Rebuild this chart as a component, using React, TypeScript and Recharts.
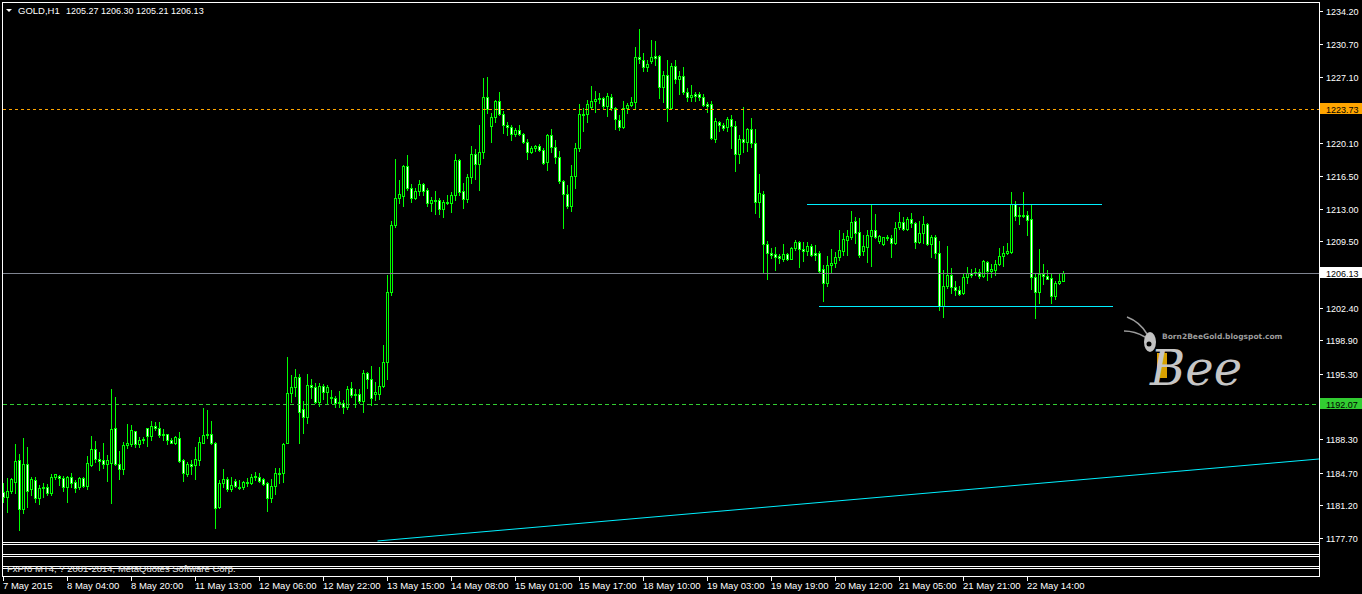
import React from 'react';
import { ComposedChart, Bar, XAxis, YAxis, ReferenceLine } from 'recharts';

// ---- GOLD H1 candles (7 May 2015 12:00 .. 22 May 2015) ----
const openPrices = [
  1182.6, 1182.1, 1182.7, 1183.7, 1186.1, 1180.8, 1185.6, 1182.9, 1183.9, 1182.0,
  1183.1, 1183.2, 1182.5, 1184.2, 1184.4, 1184.1, 1183.2, 1184.2, 1183.7, 1183.2,
  1184.1, 1183.3, 1185.5, 1187.2, 1186.2, 1186.1, 1185.6, 1185.7, 1189.5, 1185.6,
  1185.1, 1187.7, 1187.8, 1189.2, 1187.8, 1188.2, 1189.5, 1188.6, 1189.7, 1189.5,
  1188.7, 1188.8, 1188.2, 1187.9, 1188.4, 1186.1, 1184.6, 1185.6, 1185.5, 1186.1,
  1187.9, 1188.7, 1188.8, 1187.9, 1181.0, 1183.6, 1184.0, 1183.0, 1183.8, 1183.2,
  1183.2, 1183.7, 1183.6, 1184.2, 1184.2, 1184.0, 1183.6, 1182.0, 1183.3, 1184.7,
  1184.7, 1187.9, 1193.2, 1193.9, 1195.0, 1191.5, 1190.7, 1194.1, 1193.9, 1192.3,
  1194.0, 1193.4, 1192.8, 1192.7, 1192.3, 1192.2, 1191.7, 1193.8, 1193.1, 1193.1,
  1192.4, 1195.4, 1194.7, 1193.1, 1193.1, 1194.0, 1196.6, 1204.1, 1211.3, 1214.2,
  1214.4, 1217.6, 1215.2, 1214.2, 1214.9, 1215.7, 1215.0, 1213.6, 1213.9, 1213.9,
  1213.0, 1213.7, 1213.6, 1214.5, 1218.2, 1214.9, 1214.0, 1216.4, 1218.9, 1217.8,
  1219.1, 1225.0, 1221.9, 1222.8, 1224.6, 1223.2, 1222.0, 1221.8, 1221.0, 1221.4,
  1221.0, 1220.2, 1219.1, 1219.5, 1219.7, 1219.3, 1218.0, 1220.9, 1219.6, 1218.6,
  1216.0, 1214.6, 1213.3, 1216.5, 1219.5, 1223.2, 1223.2, 1223.9, 1224.6, 1224.8,
  1224.9, 1224.0, 1225.0, 1223.8, 1222.5, 1221.8, 1223.8, 1224.1, 1224.4, 1229.3,
  1229.0, 1228.2, 1228.8, 1229.4, 1229.4, 1226.0, 1227.3, 1223.8, 1228.3, 1226.9,
  1227.2, 1225.5, 1225.0, 1225.3, 1225.3, 1225.0, 1224.2, 1224.2, 1220.5, 1222.3,
  1222.0, 1221.8, 1222.6, 1221.9, 1218.9, 1220.5, 1220.2, 1221.5, 1220.0, 1213.7,
  1214.6, 1209.2, 1208.3, 1208.1, 1207.9, 1207.6, 1208.1, 1207.6, 1208.8, 1209.4,
  1208.7, 1208.5, 1209.0, 1208.3, 1208.3, 1206.5, 1205.0, 1207.0, 1207.2, 1207.8,
  1208.5, 1209.6, 1210.0, 1211.7, 1210.5, 1208.5, 1208.9, 1210.1, 1210.7, 1209.5,
  1209.2, 1210.0, 1209.9, 1209.3, 1211.0, 1211.6, 1210.8, 1211.9, 1211.5, 1209.4,
  1210.4, 1211.4, 1209.2, 1210.0, 1208.3, 1202.6, 1204.7, 1205.9, 1204.6, 1204.3,
  1204.0, 1205.7, 1206.1, 1206.2, 1206.2, 1205.8, 1207.3, 1206.3, 1206.4, 1207.1,
  1207.9, 1208.3, 1208.4, 1213.5, 1212.3, 1212.3, 1212.3, 1211.9, 1205.7, 1204.1,
  1206.0, 1205.8, 1205.6, 1203.6, 1205.0, 1205.27,
];

const highPrices = [
  1183.6, 1184.1, 1184.1, 1187.8, 1186.7, 1188.4, 1187.5, 1184.2, 1184.2, 1183.4,
  1183.6, 1183.5, 1184.6, 1184.6, 1184.5, 1184.4, 1184.4, 1184.7, 1183.9, 1184.2,
  1184.2, 1186.5, 1188.6, 1188.1, 1186.9, 1187.9, 1186.6, 1193.7, 1192.8, 1187.0,
  1188.0, 1189.9, 1189.8, 1189.2, 1188.5, 1188.5, 1189.5, 1190.2, 1190.1, 1190.1,
  1189.4, 1188.9, 1188.4, 1188.6, 1189.1, 1186.2, 1185.8, 1186.1, 1187.5, 1188.5,
  1191.6, 1191.4, 1190.2, 1188.0, 1183.9, 1185.1, 1184.2, 1184.2, 1184.0, 1183.9,
  1183.8, 1184.1, 1184.6, 1184.8, 1184.7, 1184.1, 1183.7, 1184.0, 1185.2, 1185.2,
  1187.9, 1197.1, 1195.2, 1195.8, 1195.3, 1192.4, 1195.3, 1194.7, 1194.3, 1194.3,
  1194.2, 1194.1, 1193.6, 1192.9, 1193.5, 1192.5, 1194.0, 1194.4, 1193.7, 1193.7,
  1195.7, 1195.5, 1196.1, 1194.4, 1196.0, 1198.4, 1205.9, 1211.7, 1218.3, 1216.1,
  1217.7, 1218.8, 1215.6, 1215.2, 1216.1, 1215.8, 1215.2, 1214.3, 1214.9, 1214.2,
  1213.9, 1214.5, 1214.8, 1218.9, 1218.3, 1215.8, 1216.7, 1219.7, 1219.4, 1222.0,
  1227.0, 1227.1, 1223.3, 1224.7, 1225.5, 1223.5, 1222.3, 1222.0, 1221.7, 1222.0,
  1221.1, 1220.5, 1219.7, 1219.8, 1219.9, 1219.5, 1221.0, 1221.5, 1220.4, 1219.2,
  1216.1, 1215.5, 1217.7, 1220.0, 1224.2, 1223.8, 1224.7, 1226.2, 1225.6, 1225.4,
  1225.0, 1225.4, 1225.3, 1223.9, 1223.1, 1224.5, 1224.3, 1225.0, 1230.3, 1232.3,
  1229.7, 1229.0, 1231.1, 1231.0, 1229.5, 1227.8, 1229.0, 1228.6, 1229.0, 1227.8,
  1228.2, 1225.9, 1226.3, 1225.5, 1225.5, 1225.3, 1224.4, 1224.5, 1222.7, 1222.4,
  1222.2, 1222.8, 1223.1, 1222.4, 1220.9, 1223.9, 1221.7, 1222.7, 1221.5, 1216.7,
  1214.9, 1209.5, 1208.8, 1208.9, 1208.1, 1209.2, 1208.3, 1208.9, 1209.6, 1209.5,
  1209.4, 1209.4, 1209.2, 1209.1, 1208.5, 1207.0, 1207.9, 1208.7, 1208.4, 1210.7,
  1210.4, 1210.7, 1212.8, 1212.1, 1212.0, 1210.2, 1210.7, 1213.4, 1212.4, 1210.2,
  1210.0, 1210.2, 1210.2, 1211.6, 1212.6, 1212.1, 1212.1, 1212.5, 1211.6, 1211.7,
  1212.2, 1211.5, 1210.2, 1210.2, 1209.5, 1206.4, 1209.0, 1206.6, 1205.2, 1204.7,
  1206.0, 1206.8, 1206.5, 1206.6, 1206.5, 1207.5, 1207.4, 1207.1, 1207.5, 1208.8,
  1209.0, 1209.3, 1214.8, 1213.8, 1213.2, 1214.8, 1212.8, 1213.4, 1206.0, 1208.7,
  1207.1, 1206.4, 1206.1, 1205.3, 1206.0, 1206.30,
];

const lowPrices = [
  1181.6, 1180.5, 1182.5, 1182.5, 1178.6, 1180.4, 1181.0, 1182.3, 1181.6, 1181.3,
  1182.1, 1182.3, 1182.3, 1184.0, 1183.4, 1182.7, 1181.6, 1183.2, 1182.6, 1182.9,
  1183.2, 1182.9, 1185.4, 1185.8, 1185.0, 1185.2, 1183.8, 1181.4, 1185.5, 1184.0,
  1184.6, 1187.3, 1187.6, 1187.5, 1187.5, 1187.9, 1187.6, 1188.2, 1189.3, 1188.5,
  1188.2, 1187.8, 1187.9, 1187.8, 1185.8, 1183.8, 1184.4, 1184.6, 1184.0, 1185.5,
  1187.9, 1188.4, 1187.8, 1178.8, 1180.9, 1183.2, 1182.7, 1182.7, 1183.2, 1183.0,
  1183.0, 1183.3, 1183.5, 1183.9, 1183.7, 1183.4, 1180.6, 1181.6, 1182.4, 1183.6,
  1183.7, 1187.9, 1192.3, 1192.9, 1187.9, 1189.0, 1190.0, 1192.7, 1192.2, 1191.9,
  1192.6, 1192.2, 1192.2, 1191.7, 1191.7, 1191.1, 1191.5, 1192.8, 1191.7, 1192.2,
  1191.2, 1193.8, 1192.0, 1192.5, 1192.6, 1193.9, 1194.8, 1203.8, 1211.0, 1213.6,
  1213.3, 1215.0, 1213.7, 1214.0, 1214.5, 1214.5, 1213.3, 1212.8, 1212.4, 1212.4,
  1212.1, 1213.5, 1212.6, 1213.9, 1214.5, 1213.1, 1213.7, 1215.8, 1216.2, 1215.0,
  1218.4, 1223.3, 1220.2, 1222.3, 1223.0, 1221.1, 1220.9, 1220.4, 1220.8, 1220.9,
  1220.0, 1218.3, 1219.0, 1219.2, 1219.2, 1217.8, 1217.2, 1219.1, 1217.9, 1215.8,
  1210.9, 1213.1, 1212.8, 1215.2, 1219.2, 1221.3, 1222.3, 1223.7, 1223.4, 1224.3,
  1223.7, 1222.9, 1223.6, 1221.5, 1221.4, 1221.7, 1223.3, 1224.0, 1223.8, 1228.6,
  1227.8, 1227.8, 1228.6, 1228.4, 1224.9, 1224.4, 1222.4, 1223.8, 1226.5, 1225.3,
  1225.3, 1224.6, 1224.6, 1224.6, 1224.7, 1224.0, 1223.4, 1220.5, 1220.2, 1221.3,
  1221.4, 1221.3, 1219.5, 1217.0, 1217.9, 1219.1, 1219.2, 1219.6, 1212.5, 1212.1,
  1206.2, 1205.5, 1207.7, 1206.4, 1207.2, 1207.4, 1207.5, 1207.6, 1208.6, 1206.8,
  1207.4, 1208.0, 1207.9, 1207.5, 1206.2, 1203.1, 1204.7, 1206.1, 1206.8, 1207.5,
  1208.0, 1208.0, 1209.8, 1209.3, 1207.8, 1208.0, 1207.3, 1206.9, 1209.9, 1209.3,
  1209.1, 1209.6, 1207.8, 1209.2, 1210.8, 1210.7, 1210.7, 1211.0, 1208.8, 1209.3,
  1209.3, 1209.1, 1207.8, 1207.7, 1202.1, 1201.4, 1204.5, 1204.0, 1203.8, 1203.8,
  1203.9, 1205.0, 1205.7, 1205.9, 1205.6, 1205.7, 1205.4, 1205.7, 1205.9, 1207.0,
  1206.9, 1208.1, 1208.3, 1211.8, 1211.4, 1212.1, 1210.2, 1204.4, 1201.3, 1202.9,
  1204.9, 1205.5, 1202.9, 1203.3, 1204.9, 1205.21,
];

const closePrices = [
  1182.1, 1182.7, 1184.0, 1186.0, 1180.8, 1185.6, 1182.7, 1184.0, 1182.0, 1183.1,
  1183.2, 1182.5, 1184.2, 1184.6, 1184.1, 1183.2, 1184.2, 1183.6, 1183.1, 1184.1,
  1183.3, 1185.7, 1187.2, 1186.2, 1186.0, 1185.6, 1186.1, 1189.4, 1185.6, 1185.1,
  1187.7, 1187.9, 1189.3, 1187.8, 1188.2, 1188.3, 1188.6, 1189.7, 1189.5, 1188.7,
  1188.8, 1188.2, 1187.9, 1188.5, 1186.0, 1184.7, 1185.6, 1185.4, 1186.2, 1188.0,
  1188.7, 1188.8, 1187.9, 1180.9, 1183.6, 1184.0, 1183.0, 1183.4, 1183.3, 1183.1,
  1183.7, 1183.6, 1184.2, 1184.4, 1183.8, 1183.5, 1182.0, 1183.3, 1184.7, 1184.6,
  1187.8, 1193.2, 1193.9, 1195.0, 1191.2, 1190.7, 1194.1, 1193.9, 1192.3, 1194.0,
  1193.4, 1193.9, 1192.7, 1192.2, 1192.2, 1191.7, 1193.7, 1193.0, 1193.0, 1192.4,
  1195.4, 1194.7, 1192.7, 1193.4, 1194.0, 1196.6, 1204.1, 1211.3, 1214.2, 1214.6,
  1217.6, 1215.2, 1214.2, 1214.9, 1215.7, 1214.9, 1213.6, 1213.9, 1213.8, 1213.0,
  1213.7, 1213.6, 1214.5, 1218.2, 1214.8, 1214.0, 1216.4, 1218.9, 1217.8, 1219.1,
  1225.0, 1223.7, 1222.8, 1224.6, 1223.2, 1222.0, 1221.8, 1221.0, 1221.4, 1221.0,
  1220.2, 1219.1, 1219.5, 1219.7, 1219.3, 1217.9, 1220.9, 1219.6, 1218.6, 1216.0,
  1214.6, 1213.3, 1216.5, 1219.5, 1223.2, 1223.1, 1224.2, 1224.6, 1224.8, 1224.9,
  1224.0, 1225.1, 1223.8, 1222.6, 1221.8, 1223.8, 1224.1, 1224.4, 1229.3, 1229.1,
  1228.2, 1228.5, 1229.3, 1229.2, 1226.0, 1227.3, 1223.8, 1228.3, 1226.9, 1227.2,
  1225.5, 1225.0, 1225.2, 1225.1, 1225.0, 1224.1, 1224.0, 1220.6, 1222.4, 1222.0,
  1221.7, 1222.6, 1221.9, 1218.9, 1220.5, 1220.2, 1221.5, 1220.0, 1213.7, 1214.7,
  1209.2, 1208.3, 1208.0, 1207.8, 1207.7, 1208.1, 1207.6, 1208.8, 1209.4, 1208.7,
  1208.5, 1209.0, 1208.0, 1208.0, 1206.3, 1205.0, 1207.0, 1207.2, 1207.8, 1208.6,
  1209.8, 1210.1, 1211.6, 1210.4, 1208.0, 1209.0, 1210.2, 1210.7, 1210.0, 1210.1,
  1210.0, 1209.9, 1209.3, 1210.9, 1211.6, 1210.8, 1211.9, 1211.5, 1209.4, 1210.4,
  1211.4, 1209.2, 1210.0, 1208.3, 1202.6, 1204.7, 1205.9, 1204.6, 1204.3, 1203.9,
  1205.7, 1206.1, 1205.9, 1206.1, 1205.8, 1207.4, 1206.3, 1206.5, 1207.1, 1207.9,
  1208.3, 1208.5, 1213.5, 1212.2, 1212.2, 1212.2, 1211.8, 1205.7, 1204.1, 1206.0,
  1205.8, 1205.5, 1203.6, 1205.0, 1205.3, 1206.13,
];

// time axis: bar index of each label and its text
const timeTickBars = [0, 16, 32, 48, 64, 80, 96, 112, 128, 144, 160, 176, 192, 208, 224, 240, 256];
const timeTickLabels = [
  '7 May 2015', '8 May 04:00', '8 May 20:00', '11 May 13:00', '12 May 06:00', '12 May 22:00',
  '13 May 15:00', '14 May 08:00', '15 May 01:00', '15 May 17:00', '18 May 10:00', '19 May 03:00',
  '19 May 19:00', '20 May 12:00', '21 May 05:00', '21 May 21:00', '22 May 14:00',
];

// price axis labels
const priceTicks = [
  1234.2, 1230.7, 1227.1, 1220.1, 1216.5, 1213.0, 1209.5,
  1202.4, 1198.9, 1195.3, 1188.3, 1184.7, 1181.2, 1177.7,
];

// horizontal levels with their price tags
const askLevel = 1223.73;
const bidLevel = 1206.13;
const supportLevel = 1192.07;
const levelTags = [askLevel, bidLevel, supportLevel];
const levelTagColors = ['#FFA500', '#FFFFFF', '#32CD32'];
const levelLineColors = ['#FFA500', '#7F8490', '#32CD32'];
const levelLineDashes = ['3 3', undefined, '4 3'];

// drawn objects (bar index, price) anchors
const channelTop = [{ bar: 200.9, price: 1213.47 }, { bar: 274.6, price: 1213.47 }];
const channelBottom = [{ bar: 203.9, price: 1202.54 }, { bar: 277.4, price: 1202.54 }];
const trendLine = [{ bar: 93.5, price: 1177.38 }, { bar: 328.875, price: 1186.17 }];

const header = { symbol: 'GOLD,H1', ohlc: '1205.27 1206.30 1205.21 1206.13' };

const candles = openPrices.map((o, i) => ({
  i,
  o,
  h: highPrices[i],
  l: lowPrices[i],
  c: closePrices[i],
  range: [lowPrices[i], highPrices[i]],
}));

// ---- layout / style ----
const W = 1362;
const H = 594;
const PLOT_LEFT = 3;
const PLOT_RIGHT = 1319;
const X_DOMAIN = [-0.125, 328.875];
const Y_DOMAIN = [1177.271, 1235.058];
const LIME = '#00FF00';
const CYAN = '#00F0FF';
const FONT = "'Liberation Sans', Arial, sans-serif";

function CandleShape(props: any) {
  const { x, y, width, height, payload } = props;
  if (x == null || y == null || !payload) return null;
  const { o, h, l, c } = payload;
  const span = h - l;
  const yOf = (p: number) => (span > 0 ? y + ((h - p) / span) * height : y);
  const cx = Math.floor(x + width / 2);
  const yH = Math.round(yOf(h));
  const yL = Math.round(yOf(l));
  const top = Math.round(yOf(Math.max(o, c)));
  const bot = Math.round(yOf(Math.min(o, c)));
  const bull = c > o;
  const bear = c < o;
  let body;
  if (bot - top <= 1 || (!bull && !bear)) {
    body = <rect x={cx - 1} y={top} width={3} height={Math.max(1, bot - top + 1)} fill={LIME} />;
  } else {
    body = (
      <g>
        <rect x={cx - 1} y={top} width={3} height={bot - top + 1} fill={LIME} />
        <rect x={cx} y={top + 1} width={1} height={bot - top - 1} fill={bull ? '#000000' : '#FFFFFF'} />
      </g>
    );
  }
  return (
    <g shapeRendering="crispEdges">
      <rect x={cx} y={yH} width={1} height={Math.max(1, yL - yH + 1)} fill={LIME} />
      {body}
    </g>
  );
}

function PriceTick(props: any) {
  const { y, payload } = props;
  if (y == null || !payload) return null;
  const v = Number(payload.value);
  const ry = Math.round(y);
  const k = levelTags.findIndex((t) => Math.abs(t - v) < 1e-6);
  if (k >= 0) {
    return (
      <g>
        <line
          x1={PLOT_LEFT}
          x2={PLOT_RIGHT}
          y1={ry + 0.5}
          y2={ry + 0.5}
          stroke={levelLineColors[k]}
          strokeWidth={1}
          strokeDasharray={levelLineDashes[k]}
          shapeRendering="crispEdges"
        />
        <rect x={1320} y={ry - 6} width={42} height={11} fill={levelTagColors[k]} shapeRendering="crispEdges" />
        <text x={1326} y={ry + 3.5} fontSize={9} fontFamily={FONT} fill="#000000">
          {v.toFixed(2)}
        </text>
      </g>
    );
  }
  return (
    <g>
      <rect x={1320} y={ry} width={3} height={1} fill="#FFFFFF" shapeRendering="crispEdges" />
      <text x={1326} y={ry + 3.5} fontSize={9} fontFamily={FONT} fill="#FFFFFF">
        {v.toFixed(2)}
      </text>
    </g>
  );
}

function TimeTick(props: any) {
  const { x, payload } = props;
  if (x == null || !payload) return null;
  const k = timeTickBars.indexOf(Number(payload.value));
  if (k < 0) return null;
  const px = Math.floor(x);
  return (
    <g>
      <rect x={px} y={577} width={1} height={4} fill="#FFFFFF" shapeRendering="crispEdges" />
      <text x={px} y={589} fontSize={9.5} fontFamily={FONT} fill="#FFFFFF">
        {timeTickLabels[k]}
      </text>
    </g>
  );
}

function Frame() {
  const hLines = [2, 542, 544, 554, 556, 566, 568, 576];
  return (
    <svg width={W} height={H} style={{ position: 'absolute', left: 0, top: 0, pointerEvents: 'none' }}>
      <g shapeRendering="crispEdges" fill="#FFFFFF">
        {hLines.map((yy) => (
          <rect key={yy} x={2} y={yy} width={1318} height={1} />
        ))}
        <rect x={2} y={2} width={1} height={575} />
        <rect x={1319} y={2} width={1} height={575} />
      </g>
      {/* header */}
      <polygon points="6,9 12,9 9,12" fill="#FFFFFF" />
      <text x={18} y={14} fontSize={9.5} fontFamily={FONT} fill="#FFFFFF">{header.symbol}</text>
      <text x={66} y={14} fontSize={9} fontFamily={FONT} fill="#FFFFFF">{header.ohlc}</text>
      {/* copyright */}
      <text x={7} y={572} fontSize={9.5} fontFamily={FONT} fill="#E8E8E8">
        FxPro MT4, ? 2001-2014, MetaQuotes Software Corp.
      </text>
      {/* logo */}
      <g>
        <path d="M1147 334 Q1140 322 1127 317" stroke="#9c9c9c" strokeWidth={1.5} fill="none" />
        <path d="M1145 337 Q1135 331 1124 331" stroke="#9c9c9c" strokeWidth={1.5} fill="none" />
        <ellipse cx={1150} cy={342} rx={6} ry={10} fill="#c2c2c2" />
        <circle cx={1149} cy={344} r={2.5} fill="#000000" />
        <rect x={1157} y={353} width={10} height={25} fill="#d9a000" />
        <text x={1150} y={385} fontSize={48} fontStyle="italic" fontFamily="'DejaVu Serif', serif" fill="#c6c6c6">
          Bee
        </text>
        <text x={1162} y={339} fontSize={7.5} fontWeight="bold" fontFamily="'DejaVu Sans', sans-serif" fill="#9c9c9c">
          Born2BeeGold.blogspot.com
        </text>
      </g>
    </svg>
  );
}

export default function App() {
  return (
    <div style={{ position: 'absolute', left: 0, top: 0, width: W, height: H, background: '#000000', overflow: 'hidden' }}>
      <ComposedChart width={W} height={H} data={candles} margin={{ top: 3, right: 0, bottom: 0, left: 3 }}>
        <XAxis
          type="number"
          dataKey="i"
          domain={X_DOMAIN}
          allowDataOverflow
          ticks={timeTickBars}
          interval={0}
          tick={<TimeTick />}
          axisLine={false}
          tickLine={false}
          height={52}
        />
        <YAxis
          orientation="right"
          type="number"
          domain={Y_DOMAIN}
          allowDataOverflow
          ticks={[...priceTicks, ...levelTags]}
          interval={0}
          tick={<PriceTick />}
          axisLine={false}
          tickLine={false}
          width={43}
        />
        <ReferenceLine
          segment={[{ x: channelTop[0].bar, y: channelTop[0].price }, { x: channelTop[1].bar, y: channelTop[1].price }]}
          stroke={CYAN}
          shapeRendering="crispEdges"
        />
        <ReferenceLine
          segment={[{ x: channelBottom[0].bar, y: channelBottom[0].price }, { x: channelBottom[1].bar, y: channelBottom[1].price }]}
          stroke={CYAN}
          shapeRendering="crispEdges"
        />
        <ReferenceLine
          segment={[{ x: trendLine[0].bar, y: trendLine[0].price }, { x: trendLine[1].bar, y: trendLine[1].price }]}
          stroke={CYAN}
        />
        <Bar dataKey="range" barSize={3} shape={<CandleShape />} isAnimationActive={false} />
      </ComposedChart>
      <Frame />
    </div>
  );
}
